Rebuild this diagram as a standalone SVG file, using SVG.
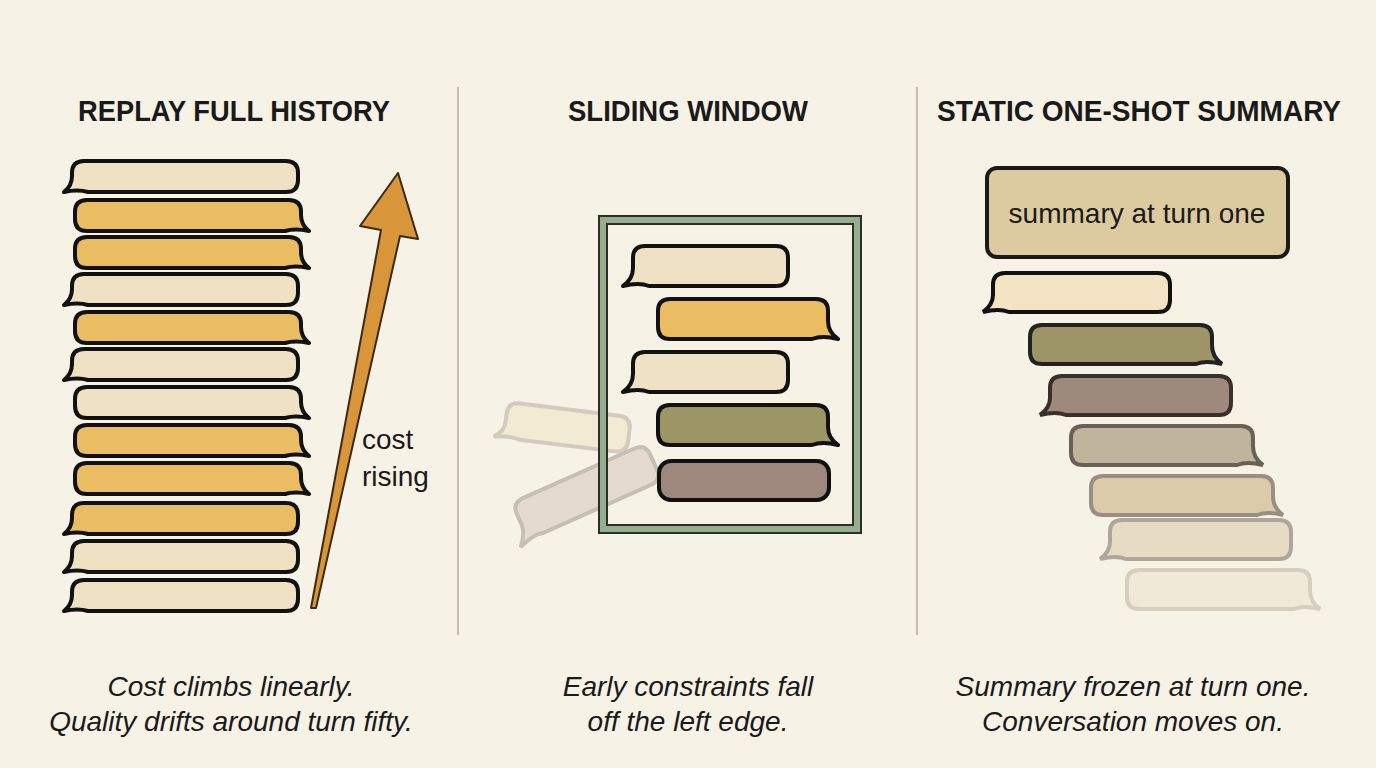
<svg xmlns="http://www.w3.org/2000/svg" width="1376" height="768" viewBox="0 0 1376 768">
<style>
.t{font-family:"Liberation Sans",Arial,sans-serif;font-weight:bold;font-size:30px;fill:#1a1a1a;text-anchor:middle}
.c{font-family:"Liberation Sans",Arial,sans-serif;font-style:italic;font-size:28px;fill:#1a1a1a;text-anchor:middle}
.b{stroke:#111;stroke-width:4;stroke-linejoin:round}
.lt{fill:#efe2c4}.gd{fill:#ebbd63}
</style>
<defs>
<path id="L" d="M12,0 H214 Q226,0 226,12 V19 Q226,31 214,31 H16 Q6,28 -8,31 Q0,25 0,15 V12 Q0,0 12,0 Z"/>
<path id="R" d="M12,0 H214 Q226,0 226,12 V15 Q226,25 234,31 Q220,28 210,31 H12 Q0,31 0,19 V12 Q0,0 12,0 Z"/>
</defs>
<rect width="1376" height="768" fill="#f7f2e6"/>
<g id="dividers" stroke="#b3ad9c" stroke-width="1.5"><line x1="458" y1="87" x2="458" y2="635"/><line x1="917" y1="87" x2="917" y2="635"/></g>
<text class="t" x="234" y="121" textLength="312" lengthAdjust="spacingAndGlyphs">REPLAY FULL HISTORY</text>
<text class="t" x="688" y="121" textLength="240" lengthAdjust="spacingAndGlyphs">SLIDING WINDOW</text>
<text class="t" x="1139" y="121" textLength="404" lengthAdjust="spacingAndGlyphs">STATIC ONE-SHOT SUMMARY</text>
<g id="history">
<use href="#L" x="72" y="161" class="b lt"/>
<use href="#R" x="75" y="200" class="b gd"/>
<use href="#R" x="75" y="237" class="b gd"/>
<use href="#L" x="72" y="274" class="b lt"/>
<use href="#R" x="75" y="312" class="b gd"/>
<use href="#L" x="72" y="349" class="b lt"/>
<use href="#R" x="75" y="387" class="b lt"/>
<use href="#R" x="75" y="425" class="b gd"/>
<use href="#R" x="75" y="463" class="b gd"/>
<use href="#L" x="72" y="503" class="b gd"/>
<use href="#L" x="72" y="541" class="b lt"/>
<use href="#L" x="72" y="580" class="b lt"/>
</g>
<g id="cost-arrow">
<polygon points="311,608 316,608 400,236 418,239 398,173 360,226 381,230" fill="#d8953a" stroke="#3a2a14" stroke-width="2" stroke-linejoin="round"/>
<text x="362" y="449" font-family="Liberation Sans,Arial,sans-serif" font-size="28" fill="#1a1a1a">cost</text>
<text x="362" y="486" font-family="Liberation Sans,Arial,sans-serif" font-size="28" fill="#1a1a1a">rising</text>
</g>
<g id="falling" opacity="0.55">
<path transform="translate(508,402) rotate(7)" d="M12,0 H112 Q124,0 124,12 V24 Q124,36 112,36 H16 Q6,33 -10,36 Q0,30 0,20 V12 Q0,0 12,0 Z" fill="#f0e4c6" stroke="#b5ad9f" stroke-width="4"/>
<path transform="translate(512,503) rotate(-24)" d="M12,0 H134 Q146,0 146,12 V28 Q146,40 134,40 H16 Q6,37 -10,44 Q0,32 0,24 V12 Q0,0 12,0 Z" fill="#d6c8bb" stroke="#9f978c" stroke-width="4"/>
</g>
<g id="window">
<rect x="603" y="220" width="254" height="309" fill="none" stroke="#2b2f26" stroke-width="10"/>
<rect x="603" y="220" width="254" height="309" fill="none" stroke="#9cb596" stroke-width="6" opacity="0.95"/>
<path transform="translate(633,246)" class="b lt" d="M12,0 H143 Q155,0 155,12 V28 Q155,40 143,40 H16 Q6,36 -10,40 Q0,33 0,22 V12 Q0,0 12,0 Z"/>
<path transform="translate(658,299)" class="b gd" d="M12,0 H158 Q170,0 170,12 V22 Q170,33 180,40 Q164,36 154,40 H12 Q0,40 0,28 V12 Q0,0 12,0 Z"/>
<path transform="translate(633,352)" class="b lt" d="M12,0 H143 Q155,0 155,12 V28 Q155,40 143,40 H16 Q6,36 -10,40 Q0,33 0,22 V12 Q0,0 12,0 Z"/>
<path transform="translate(658,405)" class="b" fill="#9c9565" d="M12,0 H158 Q170,0 170,12 V22 Q170,33 180,40 Q164,36 154,40 H12 Q0,40 0,28 V12 Q0,0 12,0 Z"/>
<rect x="659" y="461" width="170" height="39" rx="12" class="b" fill="#9e877d"/>
</g>
<g id="summary">
<rect x="987" y="168" width="301" height="89" rx="10" fill="#dccba0" stroke="#1a1a1a" stroke-width="4"/>
<text x="1137" y="223" font-family="Liberation Sans,Arial,sans-serif" font-size="28" fill="#1a1a1a" text-anchor="middle">summary at turn one</text>
</g>
<g id="later">
<path transform="translate(993,273)" fill="#f1e3c3" stroke="#111" stroke-width="4" d="M12,0 H165 Q177,0 177,12 V27 Q177,39 165,39 H16 Q6,35 -10,39 Q0,32 0,22 V12 Q0,0 12,0 Z"/>
<path transform="translate(1030,325)" fill="#9d9467" stroke="#222" stroke-width="4" d="M12,0 H170 Q182,0 182,12 V20 Q182,32 192,39 Q176,35 166,39 H12 Q0,39 0,27 V12 Q0,0 12,0 Z"/>
<path transform="translate(1050,376)" fill="#9e897d" stroke="#3a302a" stroke-width="4" d="M12,0 H169 Q181,0 181,12 V27 Q181,39 169,39 H16 Q6,35 -10,39 Q0,32 0,22 V12 Q0,0 12,0 Z"/>
<path transform="translate(1071,426)" fill="#c1b49c" stroke="#6b6056" stroke-width="4" d="M12,0 H170 Q182,0 182,12 V20 Q182,32 192,39 Q176,35 166,39 H12 Q0,39 0,27 V12 Q0,0 12,0 Z"/>
<path transform="translate(1091,476)" fill="#dccbaa" stroke="#9a8f85" stroke-width="4" d="M12,0 H170 Q182,0 182,12 V20 Q182,32 192,39 Q176,35 166,39 H12 Q0,39 0,27 V12 Q0,0 12,0 Z"/>
<path transform="translate(1110,520)" fill="#e6dcc4" stroke="#b0a79a" stroke-width="4" d="M12,0 H169 Q181,0 181,12 V27 Q181,39 169,39 H16 Q6,35 -10,39 Q0,32 0,22 V12 Q0,0 12,0 Z"/>
<path transform="translate(1127,570)" fill="#f1e9d7" stroke="#d6cebe" stroke-width="4" d="M12,0 H171 Q183,0 183,12 V20 Q183,32 193,39 Q177,35 167,39 H12 Q0,39 0,27 V12 Q0,0 12,0 Z"/>
</g>
<text class="c" x="231" y="696">Cost climbs linearly.</text>
<text class="c" x="231" y="731">Quality drifts around turn fifty.</text>
<text class="c" x="688" y="696">Early constraints fall</text>
<text class="c" x="688" y="731">off the left edge.</text>
<text class="c" x="1133" y="696">Summary frozen at turn one.</text>
<text class="c" x="1133" y="731">Conversation moves on.</text>
</svg>
